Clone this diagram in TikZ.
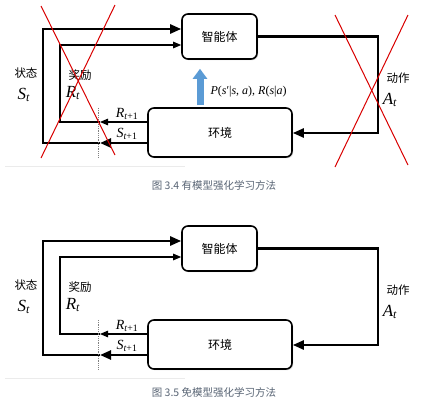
\documentclass[tikz,border=0pt]{standalone}
\usepackage{fontspec}
\setmainfont{Liberation Serif}
\newfontfamily\cjk{Noto Sans CJK SC}
\usetikzlibrary{arrows.meta,shadows}
\definecolor{capgray}{RGB}{88,100,116}
\definecolor{modelblue}{RGB}{91,155,213}
\newcommand\rlvar[2]{\textit{#1}\textsubscript{#2}}
\tikzset{
  box/.style={draw, fill=white, line width=1.6pt, rounded corners=6pt,
    font=\cjk\fontsize{12}{14}\selectfont,
    drop shadow={opacity=0.35, shadow xshift=1.2pt, shadow yshift=-1.2pt}},
  stateline/.style={line width=2.4pt, -{Triangle[length=11pt,width=9pt]}},
  rewardline/.style={line width=1.1pt, -{Triangle[length=8pt,width=6.5pt]}},
  cnlab/.style={font=\cjk\fontsize{11.5}{13}\selectfont},
  biglab/.style={font=\fontsize{17}{19}\selectfont},
  sublab/.style={font=\fontsize{14}{16}\selectfont},
  figcap/.style={font=\cjk\fontsize{10.5}{12}\selectfont, text=capgray},
  redcross/.style={draw=red!85!black, line width=1pt}
}
\begin{document}
\begin{tikzpicture}[x=1pt,y=-1pt]
\fill[white] (0,0) rectangle (424,408);
\useasboundingbox (0,0) rectangle (424,408);
\foreach \dy/\k/\cy/\txt in {0/a/185/{3.4 有模型}, 212/b/180.5/{3.5 免模型}}{
\begin{scope}[yshift=-\dy pt]
  \node[box, minimum width=75pt, minimum height=45pt] (agent\k) at (219.5,36.5) {智能体};
  \node[box, minimum width=144pt, minimum height=49pt] (env\k) at (220,132.5) {环境};
  \coordinate (snext\k) at (100,143);
  \coordinate (rnext\k) at (100,122);
  \draw[stateline] (env\k.west |- snext\k) -- (snext\k);
  \draw[stateline] (snext\k) -- (43,143) -- (43,29) -- (agent\k.west |- 0,29);
  \draw[rewardline] (env\k.west |- rnext\k) -- (rnext\k);
  \draw[rewardline] (rnext\k) -- (60,122) -- (60,45) -- (agent\k.west |- 0,45);
  \draw[stateline] (agent\k.east) -| (378,133) -- (env\k.east |- 0,133);
  \draw[densely dotted, gray, line width=0.8pt] (98,108) -- (98,157);
  \node[cnlab] (state\k) at (26,73) {状态};
  \node[biglab] (st\k) at (24,95) {\rlvar{S}{\textit{t}}};
  \node[cnlab] (reward\k) at (80,75) {奖励};
  \node[biglab] (rt\k) at (73,93) {\rlvar{R}{\textit{t}}};
  \node[sublab] (rt1\k) at (127,114) {\rlvar{R}{\textit{t}+1}};
  \node[sublab] (st1\k) at (127,134) {\rlvar{S}{\textit{t}+1}};
  \node[cnlab] (action\k) at (398,78) {动作};
  \node[biglab] (at\k) at (390,100) {\rlvar{A}{\textit{t}}};
  \draw[black!8, line width=0.8pt] (5,166) -- (185,166);
  \node[figcap] (caption\k) at (214,\cy) {图 \txt 强化学习方法};
\end{scope}
}
\draw[redcross] (41,6) -- (115,155);
\draw[redcross] (115,5) -- (41,158);
\draw[redcross] (335,15) -- (408,165);
\draw[redcross] (408,15) -- (335,167);
\draw[modelblue, line width=7pt, -{Triangle[length=10pt,width=14pt]},
  shorten <=2pt, shorten >=9pt] (enva.north -| 200,0) -- (agenta.south -| 200,0);
\node[font=\fontsize{12}{14}\selectfont, anchor=west] (trans) at (207,92) {\textit{P}(\textit{s}′|\textit{s},~\textit{a}),~\textit{R}(\textit{s}|\textit{a})};
\end{tikzpicture}
\end{document}
